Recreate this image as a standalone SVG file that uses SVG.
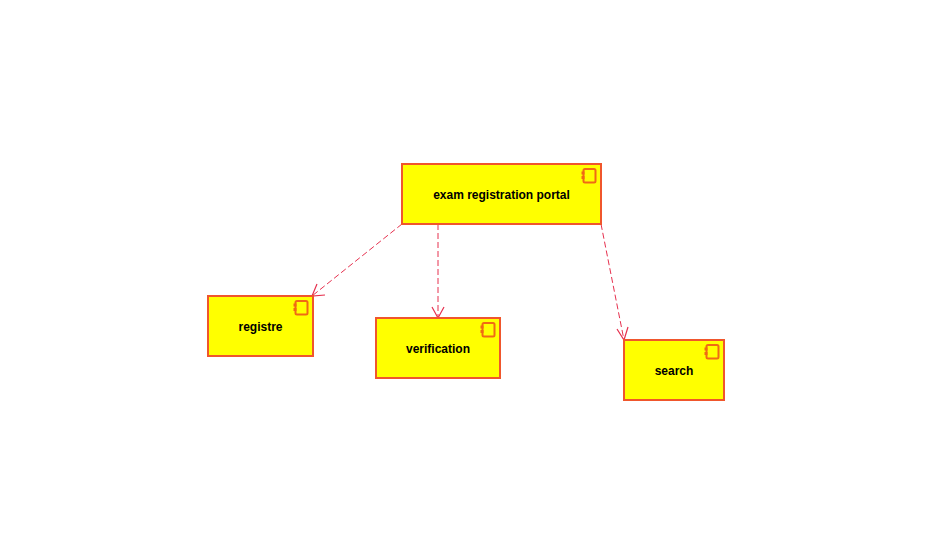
<svg xmlns="http://www.w3.org/2000/svg" width="948" height="548" viewBox="0 0 948 548">
<style>
.box{fill:#ffff00;stroke:#f0562c;stroke-width:2}
.ic{fill:#ffff00;stroke:#f06a14;stroke-width:2}
.pin{fill:#f06a14;stroke:#f06a14;stroke-width:1}
.lbl{font-family:"Liberation Sans",Arial,sans-serif;font-size:12px;font-weight:bold;fill:#000;text-anchor:middle}
.dep{fill:none;stroke:#e6304e;stroke-width:1;stroke-dasharray:6 3}
.head{fill:none;stroke:#e6304e;stroke-width:1.200}
</style>
<defs>
<g id="icon">
<rect class="ic" x="-12" y="0" width="12" height="13.500" rx="1.500"/>
<rect class="pin" x="-13.500" y="3" width="2" height="2"/>
<rect class="pin" x="-13.500" y="7.500" width="2" height="2"/>
</g>
</defs>
<rect width="948" height="548" fill="#fff"/>
<g id="connectors">
<path class="dep" d="M402 224L312 296"/>
<path class="head" d="M325 295L312 296L317 284"/>
<path class="dep" d="M438 224V318"/>
<path class="head" d="M432 307L438 318L444 307"/>
<path class="dep" d="M601 224L624 340"/>
<path class="head" d="M617 329L624 340L628 327"/>
</g>
<g id="portal">
<rect class="box" x="402" y="164" width="199" height="60"/>
<use href="#icon" x="595.500" y="169"/>
<text class="lbl" x="501.500" y="199">exam registration portal</text>
</g>
<g id="registre">
<rect class="box" x="208" y="296" width="105" height="60"/>
<use href="#icon" x="307.500" y="301"/>
<text class="lbl" x="260.500" y="331">registre</text>
</g>
<g id="verification">
<rect class="box" x="376" y="318" width="124" height="60"/>
<use href="#icon" x="494.500" y="323"/>
<text class="lbl" x="438" y="353">verification</text>
</g>
<g id="search">
<rect class="box" x="624" y="340" width="100" height="60"/>
<use href="#icon" x="718.500" y="345"/>
<text class="lbl" x="674" y="375">search</text>
</g>
</svg>
